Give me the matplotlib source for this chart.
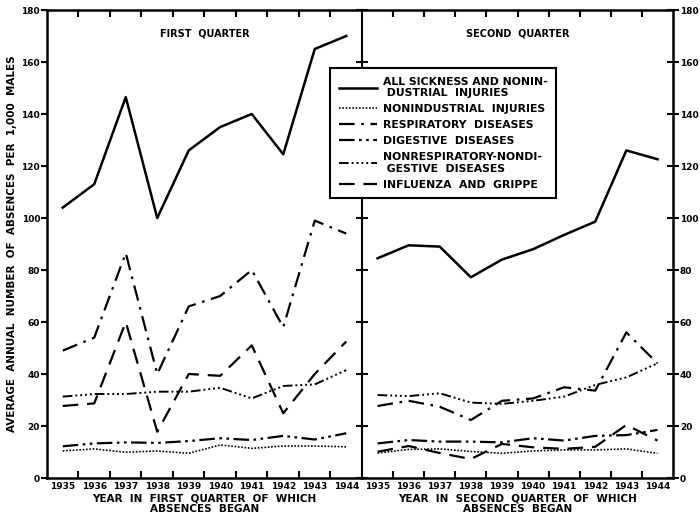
import numpy as np
import matplotlib
matplotlib.use("Agg")
import matplotlib.pyplot as plt

plt.rcParams['font.family'] = ['DejaVu Sans']
plt.rcParams['font.weight'] = 'bold'

years = [1935, 1936, 1937, 1938, 1939, 1940, 1941, 1942, 1943, 1944]

# first quarter rates per 1,000 males
q1_all = [104, 113, 146.5, 100, 126, 135, 140, 124.5, 165, 170]
q1_injuries = [10.4, 11.2, 9.9, 10.4, 9.5, 12.7, 11.4, 12.3, 12.3, 12]
q1_resp = [49, 54, 86.5, 40, 66, 70, 80, 58, 99, 94]
q1_digest = [12.2, 13.3, 13.7, 13.5, 14.2, 15.3, 14.6, 16.2, 14.8, 17.2]
q1_other = [31.3, 32.3, 32.3, 33.2, 33.2, 34.7, 30.6, 35.4, 36, 41.5]
q1_flu = [27.7, 28.7, 60, 17.8, 40, 39.3, 51, 24.9, 40, 52.5]

# second quarter rates per 1,000 males
q2_all = [84.5, 89.5, 89, 77.2, 84, 88, 93.5, 98.6, 126, 122.6]
q2_injuries = [9.6, 11, 11.2, 10.2, 9.5, 10.4, 10.8, 10.8, 11.2, 9.5]
q2_resp = [27.7, 29.7, 27.4, 22.3, 29.7, 30.6, 34.9, 33.6, 56, 44.1]
q2_digest = [13.3, 14.6, 14, 14, 13.7, 15.3, 14.4, 16.2, 16.5, 18.5]
q2_other = [31.9, 31.5, 32.6, 29, 28.5, 29.7, 31.3, 35.8, 38.7, 44.1]
q2_flu = [10.1, 12.3, 9.6, 7.3, 13.1, 11.8, 11.2, 12, 20.4, 14.4]

labels = ["ALL SICKNESS AND NONIN-\n DUSTRIAL  INJURIES",
          "NONINDUSTRIAL  INJURIES",
          "RESPIRATORY  DISEASES",
          "DIGESTIVE  DISEASES",
          "NONRESPIRATORY-NONDI-\n GESTIVE  DISEASES",
          "INFLUENZA  AND  GRIPPE"]

styles = [dict(ls='-', lw=1.8),
          dict(ls=(0, (1, 1)), lw=1.2),
          dict(ls=(0, (7, 3, 1.2, 3)), lw=1.6),
          dict(ls=(0, (7, 2, 1.2, 2, 1.2, 2)), lw=1.6),
          dict(ls=(0, (5, 1.5, 1, 1.5, 1, 1.5, 1, 1.5, 1, 1.5)), lw=1.4),
          dict(ls=(0, (7, 4)), lw=1.6)]

fig = plt.figure(figsize=(7, 5.16), dpi=100)
ax1 = fig.add_axes([47/700, 38/516, 315/700, 468/516])
ax2 = fig.add_axes([362/700, 38/516, 311/700, 468/516])

x = np.array(years)
q1 = [q1_all, q1_injuries, q1_resp, q1_digest, q1_other, q1_flu]
q2 = [q2_all, q2_injuries, q2_resp, q2_digest, q2_other, q2_flu]

for ax, series, title, xlab in [
        (ax1, q1, "FIRST  QUARTER", "YEAR  IN  FIRST  QUARTER  OF  WHICH\nABSENCES  BEGAN"),
        (ax2, q2, "SECOND  QUARTER", "YEAR  IN  SECOND  QUARTER  OF  WHICH\nABSENCES  BEGAN")]:
    for vals, st, lab in zip(series, styles, labels):
        ax.plot(x, vals, color='black', label=lab, **st)
    ax.set_xlim(1934.5, 1944.5)
    ax.set_ylim(0, 180)
    ax.set_xticks(years)
    ax.set_xticklabels([str(y) for y in years], fontsize=6.5, fontweight='bold')
    ax.set_xticks(np.arange(1935.5, 1944.5, 1), minor=True)
    ax.tick_params(axis='x', which='major', length=0, pad=3)
    ax.tick_params(axis='x', which='minor', direction='in', length=5, width=1.5,
                   top=True, bottom=True)
    ax.set_yticks(range(0, 181, 20))
    ax.text(0.5, 171, title, transform=ax.get_yaxis_transform(),
            ha='center', va='center', fontsize=7, fontweight='bold')
    ax.set_xlabel(xlab, fontsize=7.5, fontweight='bold', labelpad=2, linespacing=1.0)
    for sp in ax.spines.values():
        sp.set_linewidth(1.8)

ax1.set_yticklabels([str(v) for v in range(0, 181, 20)], fontsize=6.5, fontweight='bold')
ax1.tick_params(axis='y', direction='out', length=4, width=1.5, pad=1)
ax1.set_ylabel("AVERAGE  ANNUAL  NUMBER  OF  ABSENCES  PER  1,000  MALES",
               fontsize=7.5, fontweight='bold', labelpad=3)

ax2.tick_params(axis='y', left=True, right=True, labelleft=False, labelright=True,
                direction='inout', length=8, width=1.5, pad=1, labelsize=6.5)
ax2.spines['left'].set_linewidth(1.5)

leg = fig.legend(*ax1.get_legend_handles_labels(), loc='upper left',
                 bbox_to_anchor=(330/700, 1 - 68/516), borderaxespad=0,
                 prop=dict(size=7.8, weight='bold'),
                 frameon=True, fancybox=False, edgecolor='black', framealpha=1,
                 handlelength=3.5, handletextpad=0.55, labelspacing=0.55,
                 borderpad=0.8)
leg.get_frame().set_linewidth(1.5)

fig.savefig("out.png", dpi=100)
